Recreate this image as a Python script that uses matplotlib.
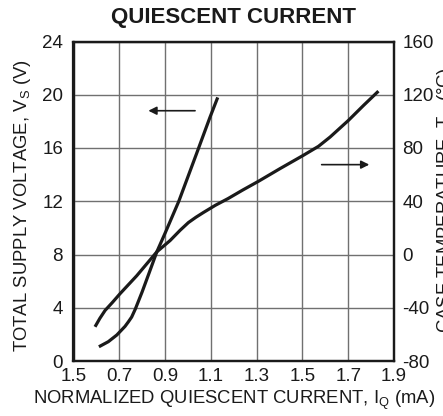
import matplotlib
matplotlib.use("Agg")
import matplotlib.pyplot as plt

plt.rcParams['font.family'] = ['Liberation Sans', 'DejaVu Sans']

# Data
x_ticks = [0.5, 0.7, 0.9, 1.1, 1.3, 1.5, 1.7, 1.9]
x_tick_labels = ["1.5", "0.7", "0.9", "1.1", "1.3", "1.5", "1.7", "1.9"]
v_ticks = [0, 4, 8, 12, 16, 20, 24]
t_ticks = [-80, -40, 0, 40, 80, 120, 160]

# Supply voltage curve (left axis)
iq_v = [0.611, 0.652, 0.689, 0.725, 0.740, 0.754, 0.770, 0.800, 0.830, 0.864, 0.900,
        0.930, 0.960, 1.038, 1.096, 1.130]
vs = [1.07, 1.45, 1.95, 2.6, 2.95, 3.3, 3.9, 5.2, 6.6, 8.2, 9.6,
      10.8, 12.0, 15.6, 18.3, 19.8]

# Case temperature curve (right axis)
iq_t = [0.594, 0.615, 0.638, 0.670, 0.703, 0.776, 0.820, 0.864, 0.922, 0.966, 1.002,
        1.035, 1.067, 1.120, 1.175, 1.240, 1.308, 1.402, 1.504, 1.570, 1.621, 1.701,
        1.767, 1.832]
tc = [-54.3, -48.0, -42.0, -36.0, -29.5, -16.0, -7.0, 2.0, 10.5, 18.25, 24.0,
      28.0, 31.5, 37.0, 42.0, 48.5, 55.0, 64.5, 74.5, 81.25, 88.25, 100.75,
      112.0, 122.7]

W, H = 443, 416
fig = plt.figure(figsize=(W / 100, H / 100), dpi=100)
ax = fig.add_axes([73.5 / W, 55 / H, 320.5 / W, 319.5 / H])
ax2 = ax.twinx()

ink = '#1a1a1a'
ax.set_xlim(0.5, 1.9)
ax.set_ylim(0, 24)
ax2.set_ylim(-80, 160)
ax.set_xticks(x_ticks)
ax.set_xticklabels(x_tick_labels)
ax.set_yticks(v_ticks)
ax2.set_yticks(t_ticks)
ax2.set_yticklabels([str(t) for t in t_ticks])

ax.grid(True, color='#707070', linewidth=1.0)
ax.set_axisbelow(True)

ax.tick_params(axis='both', length=0, labelsize=13.5, colors=ink)
ax.tick_params(axis='x', pad=5)
ax.tick_params(axis='y', pad=7.5)
ax2.tick_params(axis='y', length=0, labelsize=13.5, pad=6, colors=ink)

for a in (ax, ax2):
    for s in a.spines.values():
        s.set_linewidth(1.6)
        s.set_color(ink)

ax.plot(iq_v, vs, color=ink, linewidth=2.3, solid_capstyle='butt', solid_joinstyle='round')
ax2.plot(iq_t, tc, color=ink, linewidth=2.3, solid_capstyle='butt', solid_joinstyle='round')

# Arrows indicating axis association
ax.annotate('', xy=(0.827, 18.8), xytext=(1.031, 18.8),
            arrowprops=dict(arrowstyle='-|>', color=ink, lw=1.2,
                            mutation_scale=12, shrinkA=0, shrinkB=0))
ax2.annotate('', xy=(1.792, 67.5), xytext=(1.584, 67.5),
             arrowprops=dict(arrowstyle='-|>', color=ink, lw=1.2,
                             mutation_scale=12, shrinkA=0, shrinkB=0))

fig.text((73.5 + 394) / 2 / W, 1 - 17 / H, "QUIESCENT CURRENT", ha='center', va='center',
         fontsize=16, fontweight='bold', color=ink)
fig.text((73.5 + 394) / 2 / W, 1 - 400 / H,
         r"NORMALIZED QUIESCENT CURRENT, I$_\mathregular{Q}$ (mA)",
         ha='center', va='center', fontsize=13.3, color=ink)
fig.text(12 / W, 1 - 206 / H, r"TOTAL SUPPLY VOLTAGE, V$_\mathregular{S}$ (V)",
         rotation=90, ha='left', va='center', fontsize=13.3, color=ink)
fig.text(435 / W, 1 - 200 / H, r"CASE TEMPERATURE, T$_\mathregular{C}$ (°C)",
         rotation=90, ha='left', va='center', fontsize=13.3, color=ink)

fig.savefig('out.png', dpi=100)
